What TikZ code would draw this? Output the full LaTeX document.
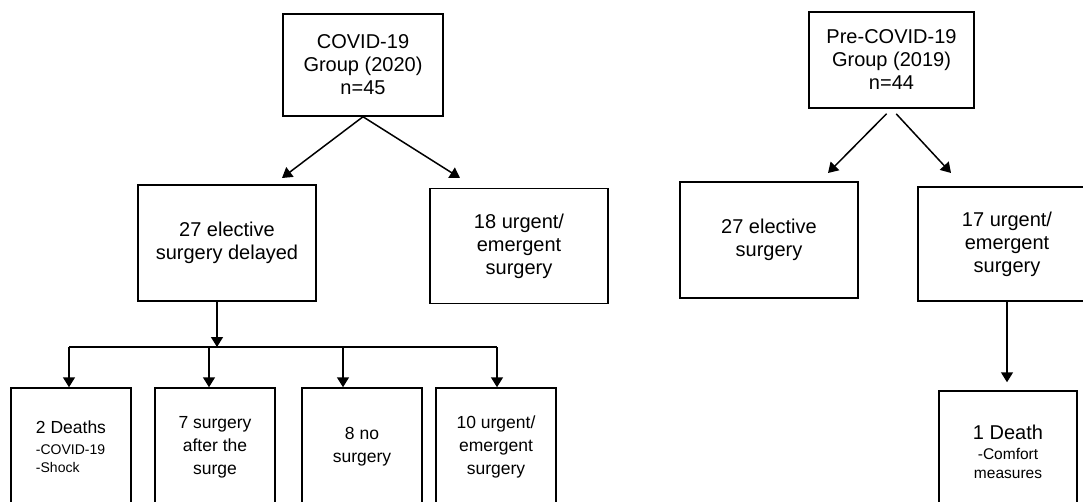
\documentclass[tikz,border=0pt]{standalone}
\usepackage{fontspec}
\setmainfont{Liberation Sans}
\usepackage{tikz}
\usetikzlibrary{arrows.meta}
\tikzset{
    block/.style={draw, line width=1.5pt, align=center, inner sep=0pt, font=\fontsize{20}{23}\selectfont},
    outcome/.style={block, minimum width=120pt, minimum height=118pt, font=\fontsize{17.5}{23}\selectfont},
    flow/.style={-{Triangle[length=10pt, width=12pt]}, line width=1.5pt},
    split/.style={line width=1.5pt}
}
\newcommand{\subtxt}{\fontsize{14}{17}\selectfont}
\newcommand{\subtxtb}{\fontsize{15.5}{19}\selectfont}

\begin{document}
\begin{tikzpicture}[x=1pt, y=-1pt]
                    \useasboundingbox (0,0) rectangle (1083,502);
                    \clip (0,0) rectangle (1083,502);
                    \node[block, minimum width=160pt, minimum height=102pt] (C) at (363,65) {COVID-19\\Group (2020)\\n=45};
                    \node[block, minimum width=165pt, minimum height=96pt] (P) at (891.5,60) {Pre-COVID-19\\Group (2019)\\n=44};
                    \node[block, minimum width=178pt, minimum height=116pt] (D) at (227,243) {27 elective\\surgery delayed};
                    \node[block, minimum width=178pt, minimum height=115pt] (U) at (519,246) {18 urgent/\\emergent\\surgery};
                    \node[block, minimum width=178pt, minimum height=116pt] (E) at (769,240) {27 elective\\surgery};
                    \node[block, minimum width=178pt, minimum height=114pt] (V) at (1007,244) {17 urgent/\\emergent\\surgery};
                    \node[outcome, align=left] (B1) at (71,447) {2 Deaths\\[-2pt]\subtxt -COVID-19\\[-5pt]\subtxt -Shock};
                    \node[outcome] (B2) at (215,447) {7 surgery\\after the\\surge};
                    \node[outcome] (B3) at (362,447) {8 no\\surgery};
                    \node[outcome] (B4) at (496,447) {10 urgent/\\emergent\\surgery};
                    \node[block, minimum width=138pt, minimum height=122pt] (R) at (1008,452) {1 Death\\[-3pt]\subtxtb -Comfort\\[-4pt]\subtxtb measures};
                    \coordinate (c1) at (282,178);
                    \coordinate (c2) at (460,178);
                    \coordinate (p1) at (828,173);
                    \coordinate (p2) at (951,173);
                    \coordinate (j0) at (217,347);
                    \coordinate (j1) at (69,347);
                    \coordinate (j2) at (209,347);
                    \coordinate (j3) at (343,347);
                    \coordinate (j4) at (497,347);
                    \draw[flow] (C.south) -- (c1);
                    \draw[flow] (C.south) -- (c2);
                    \draw[flow, shorten <=7pt] (P.south) -- (p1);
                    \draw[flow, shorten <=7pt] (P.south) -- (p2);
                    \draw[flow] ([xshift=-10pt]D.south) -- (j0);
                    \draw[split] (j1) -- (j4);
                    \draw[flow] (j1) -- (j1 |- B1.north);
                    \draw[flow] (j2) -- (j2 |- B2.north);
                    \draw[flow] (j3) -- (j3 |- B3.north);
                    \draw[flow] (j4) -- (j4 |- B4.north);
                    \draw[flow, shorten >=8pt] (V.south) -- (V.south |- R.north);
                \end{tikzpicture}
\end{document}
